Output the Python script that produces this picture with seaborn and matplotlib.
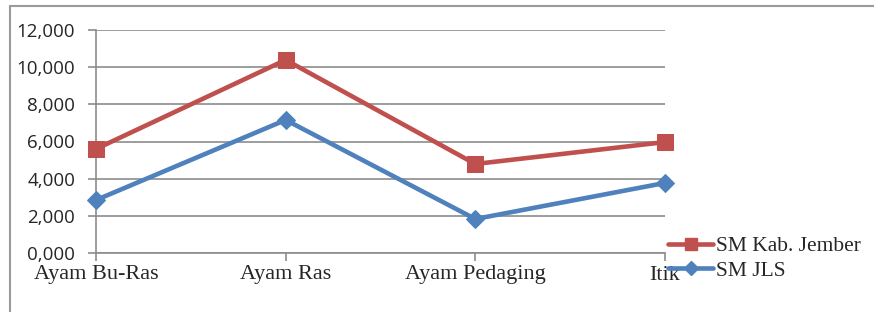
import matplotlib
matplotlib.use("Agg")
import matplotlib.pyplot as plt
import seaborn as sns
import pandas as pd
from matplotlib.lines import Line2D
from matplotlib.ticker import FuncFormatter

categories = ["Ayam Bu-Ras", "Ayam Ras", "Ayam Pedaging", "Itik"]
sm_jember = [5.60, 10.39, 4.79, 5.97]
sm_jls = [2.85, 7.16, 1.83, 3.77]
series_names = ["SM Kab. Jember", "SM JLS"]
yticks = [0, 2, 4, 6, 8, 10, 12]

df = pd.DataFrame({
    "cat": categories * 2,
    "x": list(range(len(categories))) * 2,
    "val": sm_jember + sm_jls,
    "series": [series_names[0]] * 4 + [series_names[1]] * 4,
})

sns.set_style("white")
fig = plt.figure(figsize=(8.74, 3.12), dpi=100)
ax = fig.add_axes([96/874, 1-253/312, (665-96)/874, (253-30)/312])

palette = {series_names[0]: "#C0504D", series_names[1]: "#4F81BD"}
markers = {series_names[0]: "s", series_names[1]: "D"}
sizes = {series_names[0]: 11, series_names[1]: 9}
for name in series_names:
    sub = df[df["series"] == name]
    sns.lineplot(data=sub, x="x", y="val", ax=ax, color=palette[name],
                 linewidth=3.3, marker=markers[name], markersize=sizes[name],
                 markeredgecolor=palette[name], label=name, clip_on=False,
                 zorder=3, legend=False)

ax.set_xlim(0, 3)
ax.set_ylim(0, 12)
ax.set_xticks(range(len(categories)))
ax.set_xticklabels(categories, family="Liberation Serif", fontsize=16)
ax.set_yticks(yticks)
ax.yaxis.set_major_formatter(FuncFormatter(lambda v, p: f"{v:.3f}".replace(".", ",")))
for lbl in ax.get_yticklabels():
    lbl.set_family("Open Sans")
    lbl.set_fontsize(13.5)
ax.set_xlabel("")
ax.set_ylabel("")
ax.grid(axis="y", color="#8c8c8c", linewidth=1.2)
ax.set_axisbelow(True)
for s in ["top", "right"]:
    ax.spines[s].set_visible(False)
for s in ["left", "bottom"]:
    ax.spines[s].set_color("#8c8c8c")
    ax.spines[s].set_linewidth(1.2)
ax.tick_params(axis="both", which="both", direction="out", length=6,
               color="#8c8c8c", width=1.2, left=True, bottom=True)
ax.tick_params(axis="x", pad=3)
ax.tick_params(axis="y", pad=9)

handles = [Line2D([], [], color=palette[n], linewidth=3.3, marker=markers[n],
                  markersize=sizes[n] - 2, markeredgecolor=palette[n]) for n in series_names]
leg = fig.legend(handles, series_names, loc="upper left",
                 bbox_to_anchor=(668/874, 1-236/312), frameon=False,
                 prop={"family": "Liberation Serif", "size": 15.5},
                 handlelength=2.1, handletextpad=0.15, labelspacing=0.22,
                 borderaxespad=0, borderpad=0)

# figure border (left and top edges visible)
fig.add_artist(Line2D([10/874, 10/874], [0, 1-6/312], transform=fig.transFigure,
                      color="#9a9a9a", linewidth=1.5))
fig.add_artist(Line2D([10/874, 1], [1-6/312, 1-6/312], transform=fig.transFigure,
                      color="#9a9a9a", linewidth=1.5))

fig.savefig("out.png", dpi=100)
